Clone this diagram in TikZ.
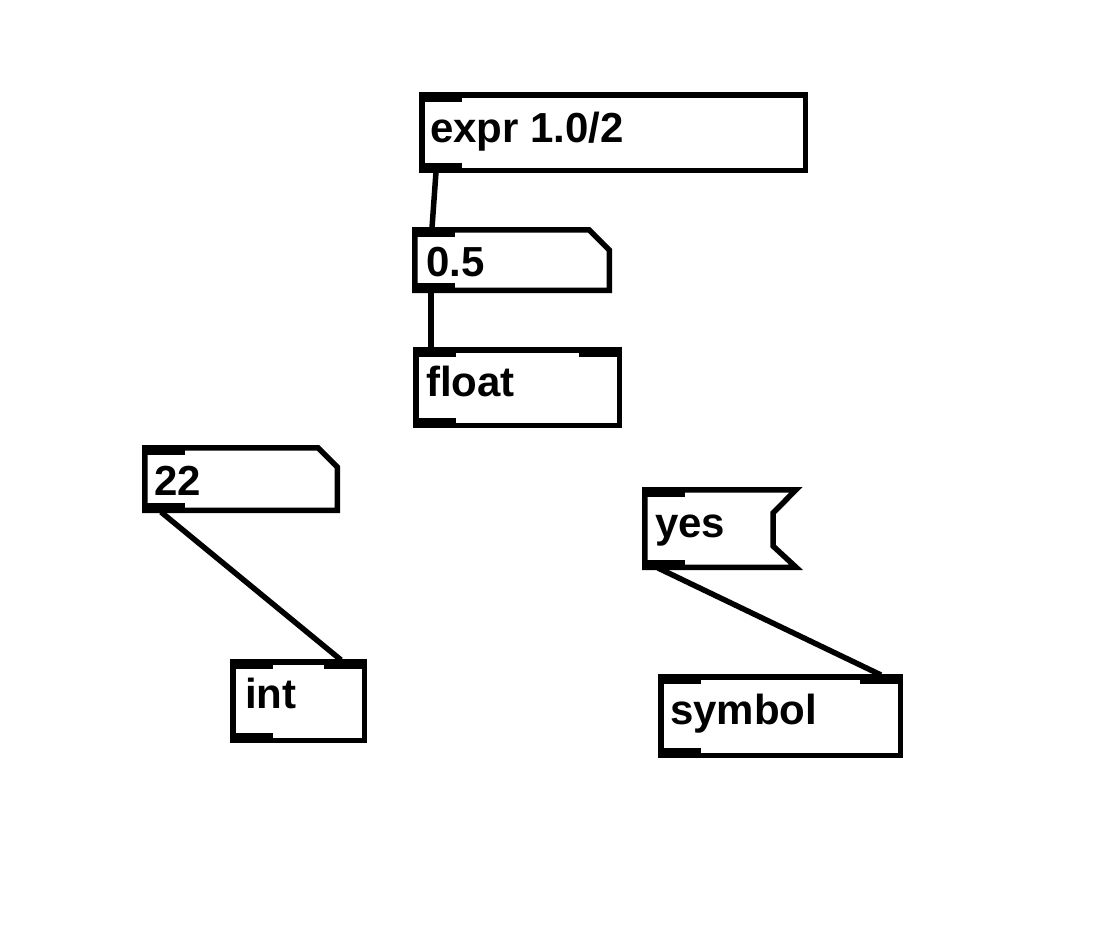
\documentclass[tikz,border=0pt]{standalone}
\usepackage{fontspec}
\setmainfont{Liberation Sans}
\begin{document}
\begin{tikzpicture}[x=1pt,y=-1pt,
  pdbox/.style={draw=black,line width=5.5pt,line join=miter},
  pdport/.style={fill=black},
  pdwire/.style={draw=black,line width=5.5pt},
  pdtext/.style={anchor=base west,inner sep=0pt,font=\fontsize{42}{42}\selectfont\bfseries}]
\useasboundingbox[fill=white] (0,0) rectangle (1118,934);

% expr 1.0/2
\draw[pdbox] (421.75,94.75) rectangle (805.25,170.25);
\fill[pdport] (419,92) rectangle (462,102);
\fill[pdport] (419,163) rectangle (462,173);
\node[pdtext] (expr) at (430,142) {expr 1.0/2};
\coordinate (exprout) at (436,172);

% number box 0.5
\draw[pdbox] (414.75,229.75) -- (589,229.75) -- (609.25,250) -- (609.25,290.25) -- (414.75,290.25) -- cycle;
\fill[pdport] (412,227) rectangle (455,237);
\fill[pdport] (412,283) rectangle (455,293);
\node[pdtext] (num) at (426,276) {0.5};
\coordinate (numin) at (432,228);
\coordinate (numout) at (431,292);

% float
\draw[pdbox] (415.75,349.75) rectangle (619.25,425.25);
\fill[pdport] (413,347) rectangle (456,357);
\fill[pdport] (579,347) rectangle (622,357);
\fill[pdport] (413,418) rectangle (456,428);
\node[pdtext] (float) at (426,396) {float};
\coordinate (floatin) at (431,348);

% number box 22
\draw[pdbox] (144.75,447.75) -- (318,447.75) -- (337.25,467) -- (337.25,510.25) -- (144.75,510.25) -- cycle;
\fill[pdport] (142,445) rectangle (185,455);
\fill[pdport] (142,503) rectangle (185,513);
\node[pdtext] (n22) at (154,495) {22};
\coordinate (n22out) at (161,512);

% int
\draw[pdbox] (232.75,661.75) rectangle (364.25,740.25);
\fill[pdport] (230,659) rectangle (273,669);
\fill[pdport] (324,659) rectangle (367,669);
\fill[pdport] (230,733) rectangle (273,743);
\node[pdtext] (int) at (245,708) {int};
\coordinate (intin) at (341,660);

% message yes
\draw[pdbox] (644.75,489.75) -- (796,489.75) -- (773,513) -- (773,546) -- (796,567.25) -- (644.75,567.25) -- cycle;
\fill[pdport] (642,487) rectangle (685,497);
\fill[pdport] (642,560) rectangle (685,570);
\node[pdtext] (yes) at (655,537) {yes};
\coordinate (yesout) at (658,568);

% symbol
\draw[pdbox] (660.75,676.75) rectangle (900.25,755.25);
\fill[pdport] (658,674) rectangle (701,684);
\fill[pdport] (860,674) rectangle (903,684);
\fill[pdport] (658,748) rectangle (701,758);
\node[pdtext] (symbol) at (670,724) {symbol};
\coordinate (symin) at (881,675);

% connections
\draw[pdwire] (exprout) -- (numin);
\draw[pdwire] (numout) -- (floatin);
\draw[pdwire] (n22out) -- (intin);
\draw[pdwire] (yesout) -- (symin);
\end{tikzpicture}
\end{document}
